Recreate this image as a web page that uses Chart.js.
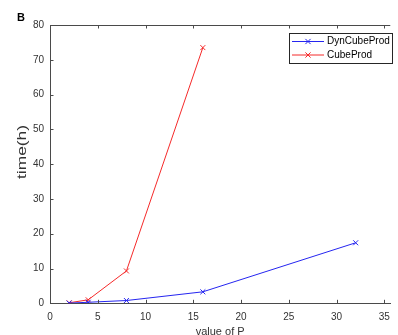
<!DOCTYPE html>
<html><head><meta charset="utf-8">
<script src="https://cdn.jsdelivr.net/npm/chart.js@4/dist/chart.umd.min.js"></script>
<style>
html,body{margin:0;padding:0;background:#fff;overflow:hidden;width:398px;height:335px;}
#wrap{position:relative;width:398px;height:345px;}
</style></head><body>
<div id="wrap"><canvas id="c"></canvas></div>
<script>
// ---- data ----
const P_dyn = [2, 4, 8, 16, 32];
const dynCubeProd = [0.05, 0.3, 0.8, 3.3, 17.4];
const P_cube = [2, 4, 8, 16];
const cubeProd = [0.15, 1.0, 9.3, 73.5];
const seriesNames = ['DynCubeProd', 'CubeProd'];
const xTicks = [0, 5, 10, 15, 20, 25, 30, 35];
const yTicks = [0, 10, 20, 30, 40, 50, 60, 70, 80];
const xTitle = 'value of P';
const yTitle = 'time(h)';
const panelLabel = 'B';

const BLUE = '#2525f0';
const RED = '#f52a2a';
const AXIS = '#4a4a4a';
const TXT = '#333333';
const FONT = "'Liberation Sans', Arial, Helvetica, sans-serif";

const toPts = (xs, ys) => xs.map((x, i) => ({x: x, y: ys[i]}));

const decor = {
  id: 'decor',
  afterDraw(chart) {
    const {ctx, chartArea: a, scales: {x, y}} = chart;
    ctx.save();
    ctx.strokeStyle = AXIS;
    ctx.lineWidth = 1;
    // top frame line
    ctx.beginPath();
    ctx.moveTo(a.left, a.top + 0.5);
    ctx.lineTo(a.right, a.top + 0.5);
    ctx.stroke();
    const tl = 3.5;
    xTicks.forEach(v => {
      const px = Math.round(x.getPixelForValue(v)) + 0.5;
      ctx.beginPath();
      ctx.moveTo(px, a.bottom); ctx.lineTo(px, a.bottom - tl);
      ctx.moveTo(px, a.top); ctx.lineTo(px, a.top + tl);
      ctx.stroke();
    });
    yTicks.forEach(v => {
      const py = Math.round(y.getPixelForValue(v)) + 0.5;
      ctx.beginPath();
      ctx.moveTo(a.left, py); ctx.lineTo(a.left + tl, py);
      ctx.stroke();
    });
    // y title
    ctx.fillStyle = TXT;
    ctx.font = '12px ' + FONT;
    ctx.textAlign = 'center';
    ctx.textBaseline = 'middle';
    ctx.save();
    ctx.translate(22.5, 152);
    ctx.rotate(-Math.PI / 2);
    ctx.scale(1.45, 1);
    ctx.fillText(yTitle, 0, 0);
    ctx.restore();
    // panel label
    ctx.fillStyle = '#000';
    ctx.font = 'bold 11px ' + FONT;
    ctx.textAlign = 'left';
    ctx.textBaseline = 'alphabetic';
    ctx.fillText(panelLabel, 17, 21);
    // legend
    const lx = 289.5, ly = 33.5, lw = 103, lh = 30;
    ctx.fillStyle = '#fff';
    ctx.fillRect(lx, ly, lw, lh);
    ctx.strokeStyle = '#262626';
    ctx.strokeRect(lx, ly, lw, lh);
    const rows = [[seriesNames[0], BLUE, 41.5], [seriesNames[1], RED, 55]];
    rows.forEach(([name, col, ry]) => {
      ctx.strokeStyle = col;
      ctx.beginPath();
      ctx.moveTo(292, ry); ctx.lineTo(324, ry);
      ctx.stroke();
      const s = 2.6;
      ctx.beginPath();
      ctx.moveTo(308 - s, ry - s); ctx.lineTo(308 + s, ry + s);
      ctx.moveTo(308 - s, ry + s); ctx.lineTo(308 + s, ry - s);
      ctx.stroke();
      ctx.fillStyle = '#000';
      ctx.font = '10px ' + FONT;
      ctx.textBaseline = 'middle';
      ctx.fillText(name, 327, ry);
    });
    ctx.restore();
  }
};

new Chart(document.getElementById('c'), {
  type: 'scatter',
  data: {
    datasets: [
      {label: seriesNames[0], data: toPts(P_dyn, dynCubeProd), showLine: true,
       borderColor: BLUE, backgroundColor: BLUE, borderWidth: 1,
       pointStyle: 'crossRot', pointRadius: 3.5, pointBorderWidth: 1, pointBorderColor: BLUE},
      {label: seriesNames[1], data: toPts(P_cube, cubeProd), showLine: true,
       borderColor: RED, backgroundColor: RED, borderWidth: 1,
       pointStyle: 'crossRot', pointRadius: 3.5, pointBorderWidth: 1, pointBorderColor: RED}
    ]
  },
  options: {
    responsive: true,
    maintainAspectRatio: false,
    animation: false,
    layout: {padding: {top: 25, left: 0, right: 0, bottom: 0}},
    plugins: {legend: {display: false}, tooltip: {enabled: false}},
    scales: {
      x: {
        type: 'linear', min: 0, max: 35.62,
        afterBuildTicks: s => { s.ticks = xTicks.map(v => ({value: v})); },
        afterFit: s => { s.height = 41.7; },
        ticks: {color: TXT, font: {size: 10, family: FONT}, padding: 8, includeBounds: false},
        grid: {drawOnChartArea: false, drawTicks: false},
        border: {display: true, color: AXIS, width: 1},
        title: {display: true, text: xTitle, color: TXT, font: {size: 11, family: FONT}, padding: {top: 0, bottom: 6.6}}
      },
      y: {
        type: 'linear', min: 0, max: 80,
        afterBuildTicks: s => { s.ticks = yTicks.map(v => ({value: v})); },
        afterFit: s => { s.width = 50; },
        ticks: {color: TXT, font: {size: 10, family: FONT}, padding: 6},
        grid: {drawOnChartArea: false, drawTicks: false},
        border: {display: true, color: AXIS, width: 1}
      }
    }
  },
  plugins: [decor]
});
</script>
</body></html>
